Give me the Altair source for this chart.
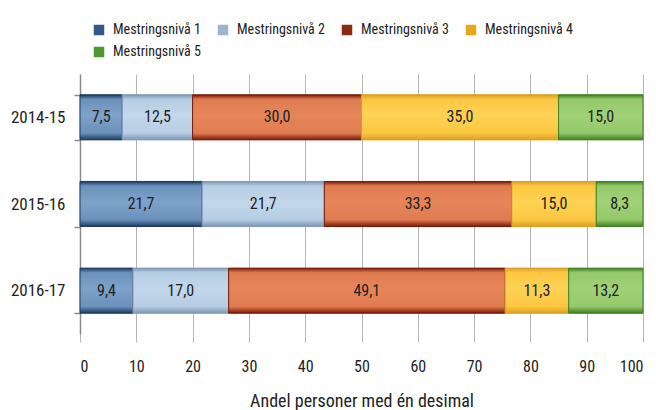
import altair as alt
import pandas as pd

years = ["2014-15", "2015-16", "2016-17"]
levels = ["Mestringsnivå 1", "Mestringsnivå 2", "Mestringsnivå 3", "Mestringsnivå 4", "Mestringsnivå 5"]
niva1 = [7.5, 21.7, 9.4]
niva2 = [12.5, 21.7, 17.0]
niva3 = [30.0, 33.3, 49.1]
niva4 = [35.0, 15.0, 11.3]
niva5 = [15.0, 8.3, 13.2]
series = [niva1, niva2, niva3, niva4, niva5]

x_ticks = [0, 10, 20, 30, 40, 50, 60, 70, 80, 90, 100]

legend_colors = ["#2f5a8a", "#9bb3cc", "#8a2a0e", "#e5a71c", "#4f9a30"]
fill_mid = ["#6a91bc", "#b5cde3", "#e07b50", "#fcc741", "#94c96b"]
fill_light = ["#7ea2c9", "#c3d7ea", "#e6865b", "#fdd255", "#a0d177"]
border = ["#1c3a5e", "#7d98b4", "#7a1a0a", "#d9a020", "#3f7f22"]

rows = []
for i, (lvl, vals) in enumerate(zip(levels, series)):
    for y, v in zip(years, vals):
        rows.append({"year": y, "level": lvl, "order": i, "value": v})
df = pd.DataFrame(rows)

FONT = "Roboto Condensed"

base = alt.Chart(df).transform_stack(
    stack="value", as_=["x0", "x1"], groupby=["year"],
    sort=[alt.SortField("order", order="ascending")]
).transform_calculate(
    mid="(datum.x0 + datum.x1) / 2",
    label="replace(format(datum.value, '.1f'), '.', ',')"
)

y_enc = alt.Y("year:N", sort=years,
              scale=alt.Scale(paddingInner=0.48, paddingOuter=0.24),
              axis=alt.Axis(title=None, tickBand="extent", grid=False,
                            domainColor="#8a8a8a", domainWidth=1.5,
                            tickColor="#8a8a8a", tickWidth=1.5, tickSize=6,
                            labelFontSize=17, labelPadding=9, labelColor="#222"))
x_enc = alt.X("x0:Q", scale=alt.Scale(domain=[0, 100], nice=False),
              axis=alt.Axis(title="Andel personer med én desimal", values=x_ticks,
                            grid=True, gridColor="#b5b5b5", domain=False,
                            tickSize=8, tickColor="#b5b5b5",
                            labelFontSize=16, labelPadding=16, labelColor="#222",
                            titleFontSize=18, titleFontWeight="normal", titleColor="#222",
                            titlePadding=18))

legend_layer = base.mark_bar().encode(
    x=x_enc, x2="x1:Q", y=y_enc,
    fill=alt.Fill("level:N", scale=alt.Scale(domain=levels, range=legend_colors),
                  legend=alt.Legend(title=None, orient="none", legendX=12, legendY=-51,
                                    columns=4, direction="horizontal",
                                    symbolType="square", symbolSize=110,
                                    symbolStrokeWidth=0, labelFontSize=14,
                                    labelColor="#222", columnPadding=15, rowPadding=8,
                                    labelOffset=7))
)

layers = [legend_layer]
for i in range(len(levels)):
    grad = alt.Gradient(
        gradient="linear", x1=0, x2=0, y1=0, y2=1,
        stops=[
            alt.GradientStop(offset=0, color=border[i]),
            alt.GradientStop(offset=0.1, color=fill_mid[i]),
            alt.GradientStop(offset=0.45, color=fill_light[i]),
            alt.GradientStop(offset=0.85, color=fill_mid[i]),
            alt.GradientStop(offset=1, color=border[i]),
        ],
    )
    layers.append(
        base.transform_filter(alt.datum.order == i).mark_bar(
            fill=grad, stroke=border[i], strokeWidth=1
        ).encode(x="x0:Q", x2="x1:Q", y=alt.Y("year:N", sort=years))
    )

text = base.mark_text(fontSize=16, color="#222", font=FONT).encode(
    x="mid:Q", y=alt.Y("year:N", sort=years), text="label:N"
)
layers.append(text)

chart = alt.layer(*layers).properties(
    width=563, height=260,
    autosize=alt.AutoSizeParams(type="none"),
    padding={"left": 72, "top": 66, "right": 5, "bottom": 80},
).configure(font=FONT).configure_view(stroke=None)

chart.save("out.html", embed_options={"renderer": "svg", "actions": False})
